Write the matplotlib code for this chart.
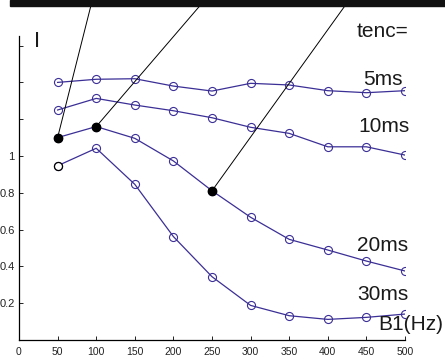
import numpy as np
import matplotlib
matplotlib.use("Agg")
import matplotlib.pyplot as plt
from matplotlib.patches import Rectangle

plt.rcParams["font.family"] = ["Liberation Sans", "DejaVu Sans"]

# ── Data ──────────────────────────────────────────────────────────────────────
B1 = [50, 100, 150, 200, 250, 300, 350, 400, 450, 500]

I_5ms  = [1.40, 1.417, 1.42, 1.380, 1.353, 1.395, 1.386, 1.355, 1.344, 1.355]
I_10ms = [1.25, 1.313, 1.277, 1.246, 1.208, 1.156, 1.123, 1.05, 1.05, 1.005]
I_20ms = [1.10, 1.16, 1.096, 0.973, 0.811, 0.667, 0.547, 0.489, 0.429, 0.375]
I_30ms = [0.947, 1.042, 0.846, 0.562, 0.344, 0.188, 0.132, 0.112, 0.123, 0.141]

SERIES = [I_5ms, I_10ms, I_20ms, I_30ms]
LABELS = ["5ms", "10ms", "20ms", "30ms"]

# highlighted (filled) points on the 20ms curve and where their pointer lines end
FILLED_X = [50, 100, 250]
FILLED_Y = [1.10, 1.16, 0.811]
POINTER_TOP_X = [93, 234, 422]
POINTER_TOP_Y = 1.815

YTICKS = [0.2, 0.4, 0.6, 0.8, 1.0, 1.2, 1.4, 1.6]
YTICKLABELS = ["0.2", "0.4", "0.6", "0.8", "1", "", "", ""]
XTICKS = [0, 50, 100, 150, 200, 250, 300, 350, 400, 450, 500]

LINE_C = "#3b2f96"

# ── Plot ──────────────────────────────────────────────────────────────────────
fig = plt.figure(figsize=(4.45, 3.58), dpi=100)
ax = fig.add_axes([19 / 445, 1 - 340 / 358, 386 / 445, (340 - 36.4) / 358])

for ys in SERIES:
    ax.plot(B1, ys, color=LINE_C, lw=0.9, marker="o", ms=5.8,
            mfc="none", mec=LINE_C, mew=0.8)

# first point of the 30ms curve is drawn in black
ax.plot(B1[0], I_30ms[0], marker="o", ms=5.8, mfc="white", mec="black", mew=0.9,
        ls="none")

# pointer lines to the filled points
for px, py, tx in zip(FILLED_X, FILLED_Y, POINTER_TOP_X):
    ax.plot([px, tx], [py, POINTER_TOP_Y], color="black", lw=0.7, clip_on=False)
ax.plot(FILLED_X, FILLED_Y, ls="none", marker="o", ms=6, mfc="black", mec="black")

ax.set_xlim(0, 500)
ax.set_ylim(0, 1.65)
ax.set_xticks(XTICKS)
ax.set_xticklabels([str(v) for v in XTICKS])
ax.set_yticks(YTICKS)
ax.set_yticklabels(YTICKLABELS)
ax.tick_params(direction="in", length=3, width=0.7, labelsize=7.5, colors="#222222")
ax.tick_params(axis="x", pad=5)
ax.tick_params(axis="y", pad=3, labelsize=8)
ax.spines[["top", "right"]].set_visible(False)
for s in ("left", "bottom"):
    ax.spines[s].set_linewidth(0.9)

# text labels
txt_kw = dict(fontsize=15, ha="center", va="baseline", color="#1a1a1a")
ax.text(471.5, 1.648, "tenc=", **txt_kw)
ax.text(471.5, 1.386, "5ms", **txt_kw)
ax.text(472.5, 1.130, "10ms", **txt_kw)
ax.text(471.5, 0.484, "20ms", **txt_kw)
ax.text(471.5, 0.217, "30ms", **txt_kw)
ax.text(507, 0.054, "B1(Hz)", **txt_kw)
ax.text(23, 1.59, "I", fontsize=16, ha="center", va="baseline", color="#1a1a1a")

# black band at the top
fig.patches.append(Rectangle((10 / 445, 1 - 6 / 358), 1, 6 / 358,
                             transform=fig.transFigure, color="#111111", zorder=10))

fig.savefig("out.png", dpi=100)
